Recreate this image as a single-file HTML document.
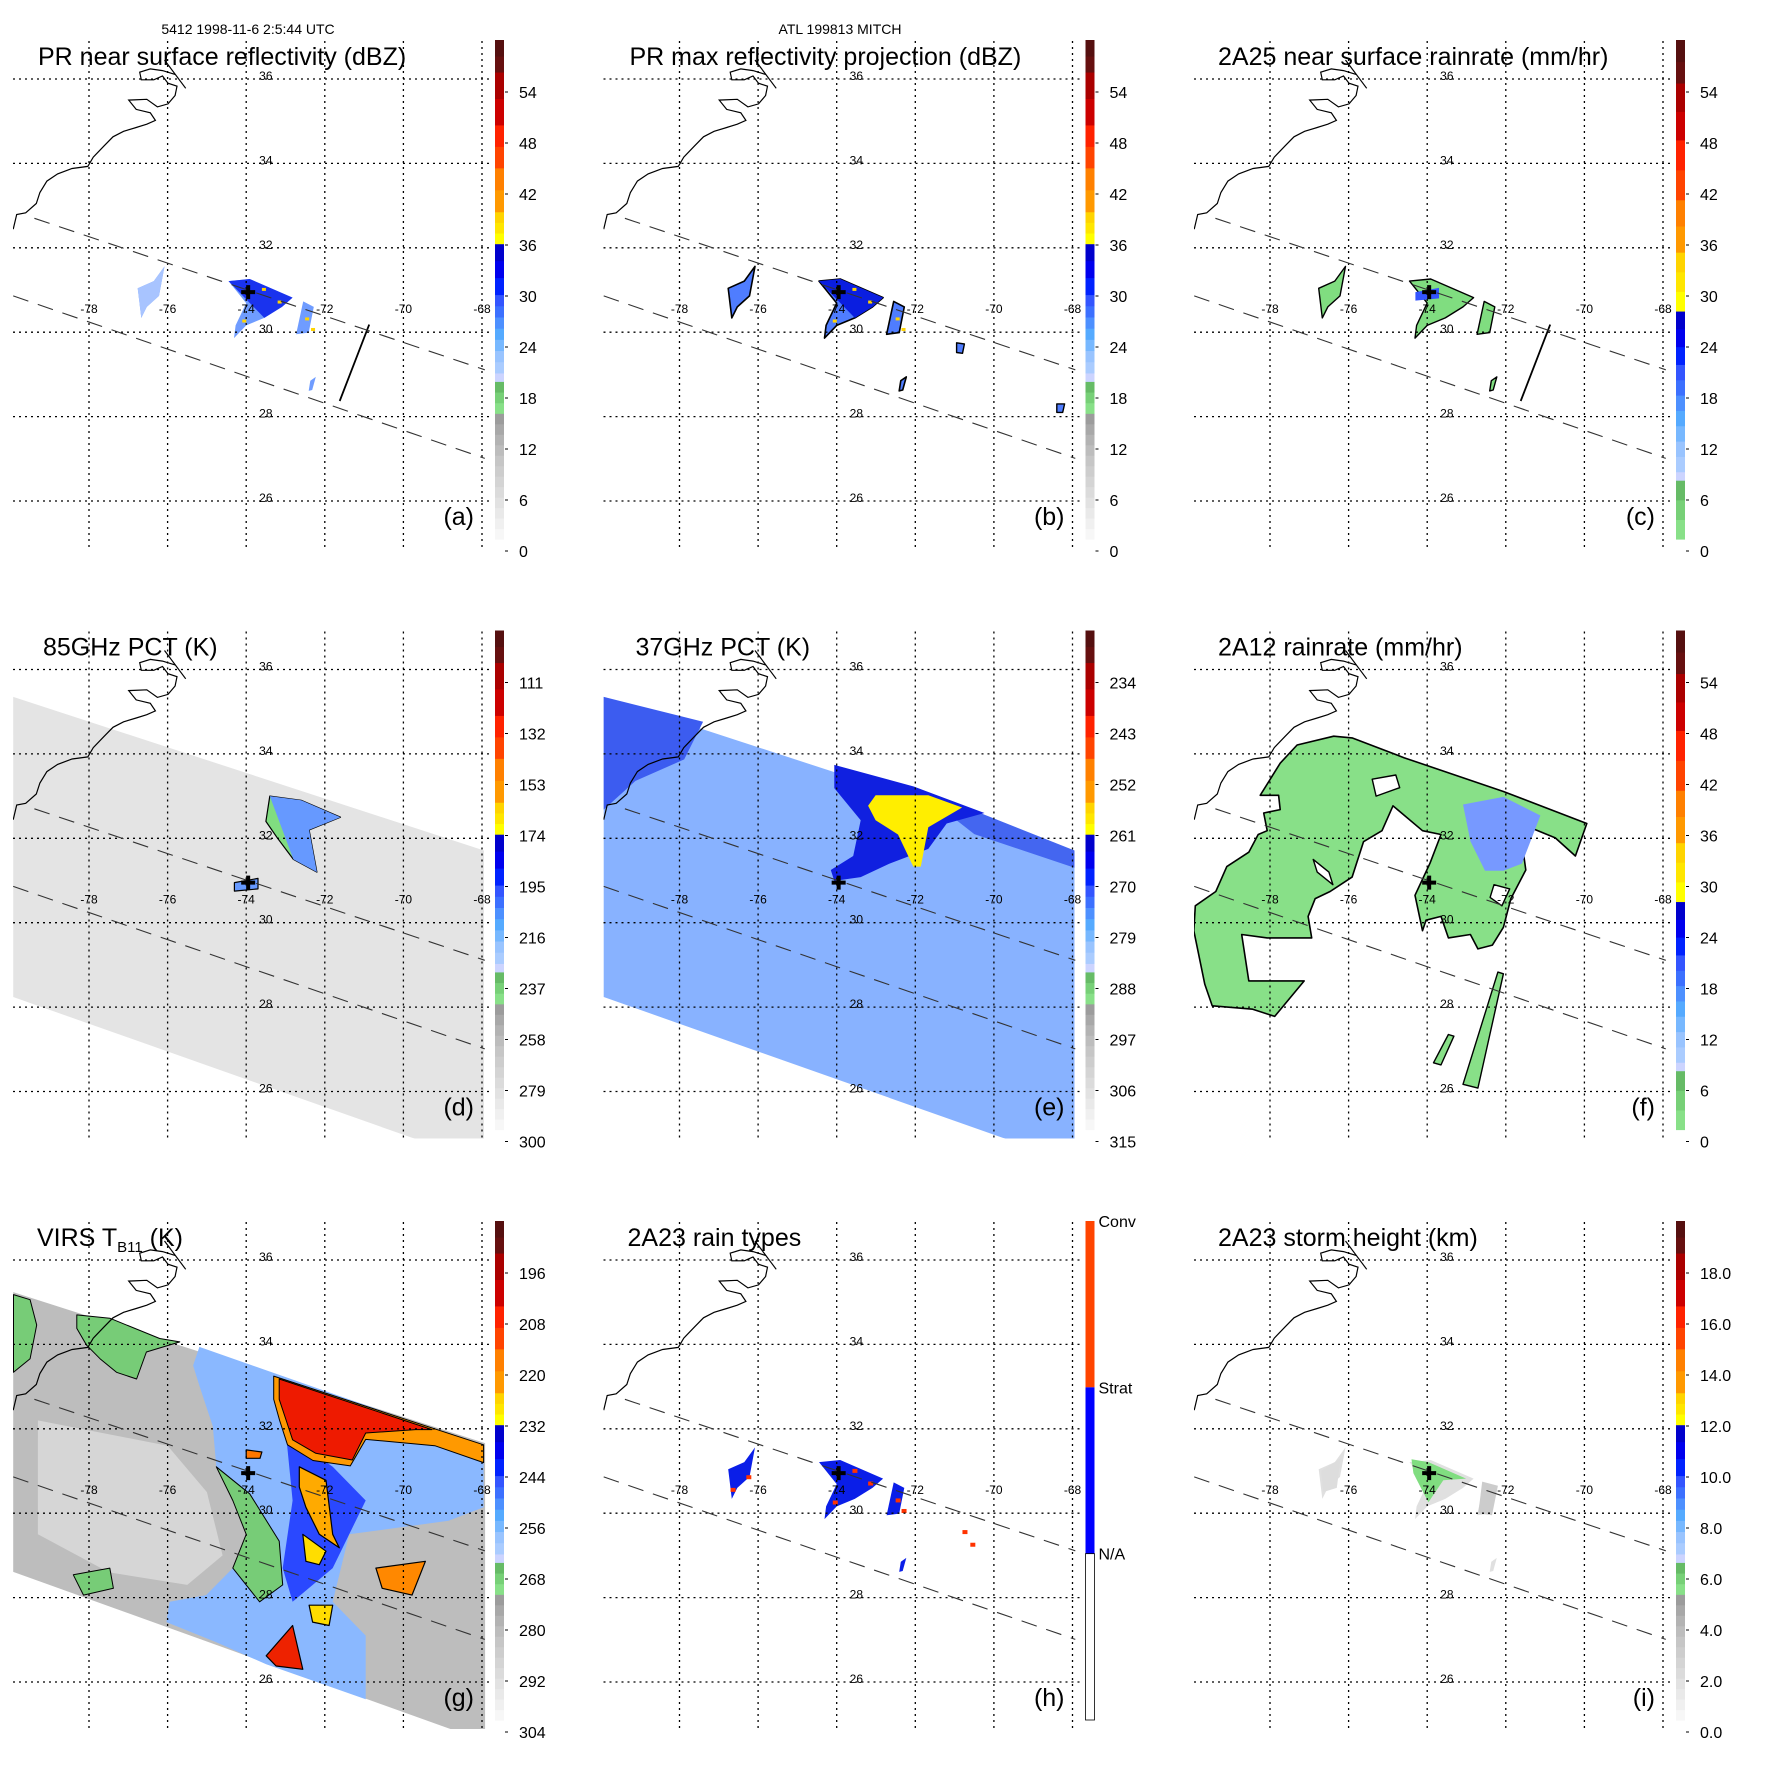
<!DOCTYPE html>
<html><head><meta charset="utf-8">
<style>
html,body{margin:0;padding:0;background:#fff;}
svg{display:block;font-family:"Liberation Sans",sans-serif;}
</style></head>
<body>
<svg id="fig" width="1771" height="1771" viewBox="0 0 1771 1771" xmlns="http://www.w3.org/2000/svg">
<defs><clipPath id="plotclip"><rect x="13" y="41" width="478" height="507"/></clipPath></defs>
<text x="248" y="34" font-size="14" text-anchor="middle">5412 1998-11-6 2:5:44 UTC</text>
<text x="840" y="34" font-size="14" text-anchor="middle">ATL 199813 MITCH</text>
</svg>
<script>
const NS="http://www.w3.org/2000/svg";
const svg=document.getElementById('fig');
// axis/grid data
const lonTicks=[-78,-76,-74,-72,-70,-68];
const latTicks=[36,34,32,30,28,26];
// colorbar tick labels (bottom to top)
const ticksDbz=["0","6","12","18","24","30","36","42","48","54"];
const ticksRain=["0","6","12","18","24","30","36","42","48","54"];
const ticks85=["300","279","258","237","216","195","174","153","132","111"];
const ticks37=["315","306","297","288","279","270","261","252","243","234"];
const ticksVirs=["304","292","280","268","256","244","232","220","208","196"];
const ticksHeight=["0.0","2.0","4.0","6.0","8.0","10.0","12.0","14.0","16.0","18.0"];
const rainTypeLabels=["Conv","Strat","N/A"];
// storm center
const center=[-73.95,30.95];
// PR swath edges [lon,lat]
const prUpper=[[-79.39,32.70],[-67.93,29.11]];
const prLower=[[-79.93,30.86],[-67.93,27.01]];
const prScanEnd=[[-70.87,30.18],[-71.62,28.37]];
// TMI & VIRS swaths
const tmiSwath=[[-79.93,35.35],[-67.95,31.71],[-67.95,24.5],[-69.77,24.9],[-79.93,28.24]];
const virsSwath=[[-79.93,35.24],[-67.92,31.66],[-67.92,24.6],[-69.0,24.95],[-79.93,28.61]];
// coastline
const coast=[[-79.93,32.44],[-79.84,32.79],[-79.61,32.83],[-79.34,33.05],[-79.25,33.31],[-79.07,33.58],[-78.80,33.75],[-78.43,33.88],[-78.03,33.93],[-77.89,34.15],[-77.62,34.41],[-77.39,34.63],[-77.12,34.76],[-76.80,34.85],[-76.53,34.93],[-76.31,35.02],[-76.44,35.20],[-76.80,35.28],[-76.99,35.50],[-76.53,35.52],[-76.26,35.34],[-75.99,35.41],[-75.81,35.61],[-75.76,35.83],[-75.99,35.90],[-76.13,36.07],[-76.35,35.98],[-76.67,35.98],[-76.71,36.16],[-76.44,36.24],[-76.13,36.20],[-75.81,36.11]];
const outerBanks=[[-76.08,36.45],[-75.54,35.78]];
// PR rain cells
const blobMain=[[-74.45,31.21],[-73.91,31.26],[-72.82,30.82],[-73.09,30.60],[-73.54,30.34],[-74.0,30.16],[-74.31,29.86],[-74.27,30.16],[-74.0,30.69]];
const blobStrip=[[-72.55,30.73],[-72.28,30.60],[-72.41,29.99],[-72.73,29.95]];
const blobLeft=[[-76.76,31.04],[-76.35,31.21],[-76.08,31.56],[-76.22,30.86],[-76.53,30.60],[-76.67,30.34]];
const blobSouth=[[-72.37,28.85],[-72.23,28.94],[-72.32,28.63],[-72.41,28.61]];
const blobEast1=[[-70.95,29.75],[-70.75,29.72],[-70.8,29.5],[-70.95,29.52]];
const blobEast2=[[-68.4,28.3],[-68.2,28.3],[-68.25,28.1],[-68.4,28.1]];
const convCells=[[-73.6,31.05],[-73.2,30.75],[-72.5,30.35],[-74.1,30.3],[-72.35,30.1]];
// TMI 85GHz depression
const pct85Blob=[[-73.4,33.0],[-72.6,32.9],[-71.6,32.5],[-72.4,32.2],[-72.2,31.2],[-72.8,31.5],[-73.2,32.0],[-73.5,32.4]];
const pct85Small=[[-74.3,30.95],[-73.7,31.05],[-73.7,30.8],[-74.3,30.75]];
// TMI 37GHz
const pct37NW=[[-79.93,35.35],[-77.40,34.76],[-77.88,33.87],[-79.12,33.36],[-79.93,32.68]];
const pct37Dark=[[-74.06,33.74],[-72.05,33.23],[-70.24,32.60],[-71.20,32.35],[-71.67,31.75],[-72.63,31.41],[-73.39,31.08],[-74.06,30.99],[-74.15,31.25],[-73.58,31.58],[-73.39,32.43],[-74.06,33.19]];
const pct37Band=[[-72.05,33.23],[-67.95,31.71],[-67.95,31.3],[-70.5,32.1]];
const pct37Core=[[-73.01,33.02],[-71.67,33.02],[-70.81,32.73],[-71.67,32.26],[-71.86,31.33],[-72.05,31.33],[-72.44,32.09],[-73.01,32.43],[-73.20,32.77]];
// 2A12 rain
const tmiRain=[[-79.90,30.40],[-79.38,30.74],[-79.10,31.33],[-78.54,31.67],[-78.30,32.09],[-78.07,32.18],[-78.16,32.60],[-77.74,32.68],[-77.78,33.02],[-78.25,33.02],[-77.74,33.78],[-77.31,34.21],[-76.38,34.42],[-75.91,34.38],[-74.59,33.91],[-72.06,33.11],[-69.94,32.35],[-70.23,31.58],[-70.74,32.01],[-71.40,32.26],[-71.59,31.92],[-71.49,31.25],[-71.87,30.57],[-72.06,29.89],[-72.34,29.47],[-72.71,29.38],[-72.90,29.72],[-73.46,29.64],[-73.65,30.15],[-74.03,30.06],[-74.12,29.81],[-74.31,30.65],[-73.93,31.41],[-73.65,32.09],[-74.12,32.18],[-74.87,32.77],[-75.15,32.18],[-75.62,31.92],[-75.91,31.08],[-76.47,30.74],[-76.85,30.57],[-77.03,30.15],[-76.94,29.64],[-78.07,29.64],[-78.72,29.72],[-78.54,28.62],[-77.13,28.62],[-77.88,27.78],[-78.44,27.95],[-79.47,28.03],[-79.66,28.54],[-79.94,29.81]];
const tmiRainHole1=[[-76.9,31.5],[-76.5,31.2],[-76.4,30.9],[-76.8,31.2]];
const tmiRainHole2=[[-75.4,33.4],[-74.8,33.5],[-74.7,33.2],[-75.3,33.0]];
const tmiRainHole3=[[-72.3,30.9],[-71.9,30.8],[-72.1,30.4],[-72.4,30.6]];
const tmiRainBlue=[[-73.09,32.80],[-72.06,32.98],[-71.12,32.54],[-71.59,31.40],[-72.06,31.23],[-72.53,31.23],[-72.90,31.93]];
const tmiStrip1=[[-73.09,26.17],[-72.71,26.08],[-72.06,28.79],[-72.20,28.83]];
const tmiStrip2=[[-73.84,26.68],[-73.65,26.63],[-73.32,27.31],[-73.46,27.35]];
// VIRS cloud tops
const virsLight=[[-79.3,32.2],[-76.0,31.6],[-75.0,30.5],[-74.6,29.0],[-75.5,28.3],[-77.5,28.6],[-79.3,29.5]];
const virsCold=[[-75.19,33.94],[-75.35,33.50],[-75.19,33.02],[-74.85,32.06],[-74.76,31.10],[-74.34,30.30],[-74.0,29.50],[-74.34,28.70],[-75.02,28.06],[-75.95,27.90],[-76.03,27.42],[-74.76,26.94],[-73.49,26.42],[-70.96,25.59],[-70.96,27.10],[-71.80,27.90],[-71.38,29.50],[-70.11,29.66],[-68.85,29.82],[-67.96,30.14],[-67.96,31.58]];
const virsGreenNW=[[-78.31,34.70],[-77.47,34.62],[-76.20,34.14],[-75.69,34.06],[-76.54,33.82],[-76.79,33.18],[-77.30,33.34],[-77.72,33.66],[-78.06,33.98],[-78.31,34.38]];
const virsGreenW=[[-79.92,35.18],[-79.50,35.06],[-79.33,34.46],[-79.50,33.66],[-79.92,33.34]];
const virsGreenBand=[[-74.76,31.10],[-73.91,30.46],[-73.16,29.34],[-73.07,28.30],[-73.66,27.90],[-74.34,28.70],[-74.0,29.5],[-74.34,30.3]];
const virsGreenSW=[[-78.40,28.54],[-77.47,28.70],[-77.38,28.22],[-78.14,28.06]];
const virsBlue=[[-72.99,31.90],[-71.80,31.10],[-70.96,30.30],[-71.80,28.70],[-72.82,27.90],[-73.07,28.70],[-72.82,30.30]];
const virsOrange=[[-73.3,33.25],[-67.96,31.62],[-67.96,31.2],[-69.2,31.6],[-70.96,31.75],[-71.35,31.12],[-72.3,31.25],[-72.95,31.62],[-73.15,32.2],[-73.3,32.7]];
const virsRed=[[-73.16,33.18],[-69.27,31.98],[-69.69,31.98],[-70.96,31.90],[-71.30,31.26],[-72.23,31.42],[-72.82,31.74],[-72.99,32.22],[-73.16,32.70]];
const virsStreak=[[-72.65,31.10],[-71.97,30.78],[-71.80,29.50],[-71.63,29.18],[-72.14,29.50],[-72.48,30.14],[-72.65,30.62]];
const virsYellow1=[[-72.56,29.50],[-71.97,29.10],[-72.14,28.78],[-72.48,28.86]];
const virsYellow2=[[-72.40,27.82],[-71.80,27.82],[-71.89,27.34],[-72.31,27.42]];
const virsRedS=[[-73.49,26.62],[-72.82,27.34],[-72.56,26.30],[-73.24,26.38]];
const virsOrangeE=[[-70.70,28.70],[-69.44,28.86],[-69.78,28.06],[-70.54,28.22]];
const virsOrangeSmall=[[-74.0,31.5],[-73.6,31.45],[-73.65,31.3],[-74.0,31.3]];
// storm height
const heightGreen=[[-74.40,31.28],[-73.97,31.21],[-73.01,30.82],[-73.59,30.78],[-73.97,30.26],[-74.16,30.60],[-74.35,30.95]];
const heightGrayE=[[-72.6,30.75],[-72.2,30.65],[-72.35,29.95],[-72.7,30.0]];
const heightGrayW=[[-76.7,31.0],[-76.2,31.3],[-76.3,30.6],[-76.65,30.5]];

const X0=89, PXLON=39.3, Y0=79, PXLAT=42.2, PSTEP=590.5;
function x(lon){return X0+(lon+78)*PXLON;}
function y(lat){return Y0+(36-lat)*PXLAT;}
function pts(arr){return arr.map(p=>x(p[0]).toFixed(1)+','+y(p[1]).toFixed(1)).join(' ');}
function mk(tag,attrs,parent,name){
  const el=document.createElementNS(NS,tag);
  for(const k in attrs) el.setAttribute(k,attrs[k]);
  
  
  parent.appendChild(el);
  return el;
}
function poly(arr,parent,name,fill,stroke,sw){
  return mk('polygon',{points:pts(arr),fill:fill,stroke:stroke||'none','stroke-width':sw||0,'stroke-linejoin':'round'},parent,name);
}
const grays=['#f7f7f7','#f0f0f0','#e9e9e9','#e2e2e2','#dbdbdb','#d4d4d4','#cdcdcd','#c6c6c6','#bdbdbd','#b3b3b3','#a8a8a8','#9c9c9c'];
const greens=['#88e088','#77d077','#66bb66'];
const lblues=['#aaccff','#99c4ff','#77b8ff','#55aaff','#4d90ff','#3c70ff','#3355ff'];
const dblues=['#0022ff','#0000ee','#0000cc'];
const yellows=['#ffff00','#ffe600','#ffd400'];
const oranges=['#ff9900','#ff8000'];
const reds=['#ff4400','#ff2200'];
const dreds=['#cc0000','#aa0000'];
const maroons=['#661010','#551010'];
const cmapStd=[[0,0.252,grays],[0.252,0.316,greens],[0.316,0.333,['#ccd4ff']],[0.333,0.49,lblues],[0.49,0.592,dblues],[0.592,0.656,yellows],[0.656,0.744,oranges],[0.744,0.83,reds],[0.83,0.936,dreds],[0.936,1,maroons]];
const cmapRain=[[0,0.118,greens],[0.118,0.135,['#ccd4ff']],[0.135,0.35,lblues],[0.35,0.457,dblues],[0.457,0.575,yellows],[0.575,0.68,oranges],[0.68,0.8,reds],[0.8,0.914,dreds],[0.914,1,maroons]];
const CB_X=495, CB_W=9, CB_TOP=40, CB_BOT=539;

function drawColorbar(g,cmap,ticks){
  const H=CB_BOT-CB_TOP;
  cmap.forEach(seg=>{
    const n=seg[2].length, f0=seg[0], f1=seg[1];
    seg[2].forEach((c,i)=>{
      const a=f0+(f1-f0)*i/n, b=f0+(f1-f0)*(i+1)/n;
      mk('rect',{x:CB_X,y:(CB_BOT-b*H).toFixed(2),width:CB_W,height:((b-a)*H+0.6).toFixed(2),fill:c},g,'colorbar-cell');
    });
  });
  ticks.forEach((t,i)=>{
    const ty=551-i*51;
    mk('line',{x1:505,x2:508,y1:ty,y2:ty,stroke:'#000','stroke-width':1},g,'colorbar-tick');
    const tx=mk('text',{x:519,y:ty+6,'font-size':16},g,'colorbar-label');
    tx.textContent=t;
  });
}
function drawRainTypeBar(g){
  const H=CB_BOT-CB_TOP, t=H/3;
  mk('rect',{x:CB_X,y:CB_TOP,width:CB_W,height:t,fill:'#ff4400'},g,'colorbar-conv');
  mk('rect',{x:CB_X,y:CB_TOP+t,width:CB_W,height:t,fill:'#0000ff'},g,'colorbar-strat');
  mk('rect',{x:CB_X,y:CB_TOP+2*t,width:CB_W,height:t,fill:'#fff',stroke:'#000','stroke-width':0.8},g,'colorbar-na');
  rainTypeLabels.forEach((l,i)=>{
    const tx=mk('text',{x:508,y:CB_TOP+i*t+6,'font-size':16},g,'colorbar-label');
    tx.textContent=l;
  });
}
function drawBase(g){
  latTicks.forEach(lat=>{
    mk('line',{x1:13,x2:491,y1:y(lat),y2:y(lat),stroke:'#000','stroke-width':1.3,'stroke-dasharray':'2,4'},g,'lat-gridline');
    const t=mk('text',{x:x(-73.5),y:y(lat)+1,'font-size':12,'text-anchor':'middle'},g,'lat-label');
    t.textContent=String(lat);
  });
  lonTicks.forEach(lon=>{
    mk('line',{x1:x(lon),x2:x(lon),y1:41,y2:548,stroke:'#000','stroke-width':1.3,'stroke-dasharray':'2,4'},g,'lon-gridline');
    const t=mk('text',{x:x(lon),y:y(30.55)+4,'font-size':12,'text-anchor':'middle'},g,'lon-label');
    t.textContent=String(lon);
  });
  const cl=mk('g',{'clip-path':'url(#plotclip)'},g,'coastline-group');
  mk('polyline',{points:pts(coast),fill:'none',stroke:'#000','stroke-width':1.2},cl,'coastline');
  mk('polyline',{points:pts(outerBanks),fill:'none',stroke:'#000','stroke-width':1.2},cl,'outer-banks');
  mk('polyline',{points:pts(prUpper),fill:'none',stroke:'#333','stroke-width':1.1,'stroke-dasharray':'16,10'},cl,'pr-swath-edge-upper');
  mk('polyline',{points:pts(prLower),fill:'none',stroke:'#333','stroke-width':1.1,'stroke-dasharray':'16,10'},cl,'pr-swath-edge-lower');
}
function drawCross(g){
  const cx=x(center[0]), cy=y(center[1]);
  mk('path',{d:`M${cx-7},${cy}H${cx+7}M${cx},${cy-7}V${cy+7}`,stroke:'#000','stroke-width':4},g,'storm-center-marker');
}
function prCells(f,fill,stroke,sw,inner){
  [blobMain,blobStrip,blobLeft,blobSouth].forEach(b=>poly(b,f,'rain-cell',fill,stroke,sw));
  if(inner){
    poly(blobMain.slice(0,5),f,'rain-core',inner,'none',0);
  }
}
const panels=[
 {c:0,r:0,title:'PR near surface reflectivity (dBZ)',tx:38,letter:'(a)',ticks:ticksDbz,cmap:cmapStd,draw:f=>{
   prCells(f,'#6f9cff','none',0,'#1a33ee');
   poly(blobLeft,f,'rain-cell-light','#a8c4ff','none',0);
   convCells.forEach(p=>mk('rect',{x:x(p[0]),y:y(p[1]),width:4,height:3,fill:'#ffd400'},f,'conv-pixel'));
   mk('polyline',{points:pts(prScanEnd),fill:'none',stroke:'#000','stroke-width':1.8},f,'pr-scan-end');
 }},
 {c:1,r:0,title:'PR max reflectivity projection (dBZ)',tx:39,letter:'(b)',ticks:ticksDbz,cmap:cmapStd,draw:f=>{
   prCells(f,'#4f7dff','#000',1.6,'#0a1ee0');
   poly(blobEast1,f,'rain-cell','#4f7dff','#000',1.4);
   poly(blobEast2,f,'rain-cell','#4f7dff','#000',1.4);
   convCells.forEach(p=>mk('rect',{x:x(p[0]),y:y(p[1]),width:4,height:3,fill:'#ffd400'},f,'conv-pixel'));
 }},
 {c:2,r:0,title:'2A25 near surface rainrate (mm/hr)',tx:37,letter:'(c)',ticks:ticksRain,cmap:cmapRain,draw:f=>{
   prCells(f,'#80dd80','#000',1.4,null);
   poly(pct85Small,f,'rain-core','#3355ff','none',0);
   mk('polyline',{points:pts(prScanEnd),fill:'none',stroke:'#000','stroke-width':1.8},f,'pr-scan-end');
 }},
 {c:0,r:1,title:'85GHz PCT (K)',tx:43,letter:'(d)',ticks:ticks85,cmap:cmapStd,draw:f=>{
   poly(tmiSwath,f,'tmi-swath','#e4e4e4','none',0);
   poly(pct85Blob,f,'ice-scatter-region','#80dd80','#000',1.2);
   poly(pct85Blob.slice(0,6),f,'ice-scatter-core','#6699ff','none',0);
   poly(pct85Small,f,'ice-scatter-small','#6699ff','#000',1.2);
 }},
 {c:1,r:1,title:'37GHz PCT (K)',tx:45,letter:'(e)',ticks:ticks37,cmap:cmapStd,draw:f=>{
   poly(tmiSwath,f,'tmi-swath','#88b2ff','none',0);
   poly(pct37NW,f,'tmi-land-region','#3c5cf0','none',0);
   poly(pct37Band,f,'emission-band','#4466f0','none',0);
   poly(pct37Dark,f,'emission-region','#1020e0','none',0);
   poly(pct37Core,f,'emission-core','#ffee00','none',0);
 }},
 {c:2,r:1,title:'2A12 rainrate (mm/hr)',tx:37,letter:'(f)',ticks:ticksRain,cmap:cmapRain,draw:f=>{
   poly(tmiRain,f,'rain-region','#88e088','#000',1.6);
   poly(tmiRainBlue,f,'heavy-rain-region','#7799ff','none',0);
   [tmiRainHole1,tmiRainHole2,tmiRainHole3].forEach(h=>poly(h,f,'rain-free-hole','#fff','#000',1.4));
   poly(tmiStrip1,f,'rain-strip','#88e088','#000',1.4);
   poly(tmiStrip2,f,'rain-strip','#88e088','#000',1.4);
 }},
 {c:0,r:2,title:'VIRS T',sub:'B11',tail:' (K)',tx:37,letter:'(g)',ticks:ticksVirs,cmap:cmapStd,draw:f=>{
   poly(virsSwath,f,'virs-swath','#bdbdbd','none',0);
   poly(virsLight,f,'warm-clear-region','#d6d6d6','none',0);
   poly(virsCold,f,'cold-cloud-region','#8ab8ff','none',0);
   poly(virsBlue,f,'cold-cloud-core','#2a48ff','none',0);
   poly(virsGreenNW,f,'cloud-region','#77cc77','#000',1);
   poly(virsGreenW,f,'cloud-region','#77cc77','#000',1);
   poly(virsGreenBand,f,'cloud-region','#77cc77','#000',1);
   poly(virsGreenSW,f,'cloud-region','#77cc77','#000',1);
   poly(virsOrange,f,'cold-top-region','#ff9900','#000',1);
   poly(virsRed,f,'coldest-top-region','#ee1a00','#000',1);
   poly(virsStreak,f,'convective-streak','#ffaa00','#000',1.2);
   poly(virsYellow1,f,'convective-cell','#ffdd00','#000',1.2);
   poly(virsYellow2,f,'convective-cell','#ffdd00','#000',1.2);
   poly(virsRedS,f,'convective-cell','#ee2200','#000',1.2);
   poly(virsOrangeE,f,'convective-cell','#ff8800','#000',1.2);
   poly(virsOrangeSmall,f,'convective-cell','#ff7700','#000',1.2);
 }},
 {c:1,r:2,title:'2A23 rain types',tx:37,letter:'(h)',ticks:null,cmap:null,draw:f=>{
   [blobMain,blobStrip,blobLeft,blobSouth].forEach(b=>poly(b,f,'rain-type-cell','#0a1ee8','none',0));
   convCells.concat([[-76.3,30.9],[-76.7,30.6],[-70.8,29.6],[-70.6,29.3]]).forEach(p=>mk('rect',{x:x(p[0]),y:y(p[1]),width:5,height:4,fill:'#ff3300'},f,'convective-pixel'));
 }},
 {c:2,r:2,title:'2A23 storm height (km)',tx:37,letter:'(i)',ticks:ticksHeight,cmap:cmapStd,draw:f=>{
   [blobMain,blobStrip,blobLeft,blobSouth].forEach(b=>poly(b,f,'height-cell','#e0e0e0','none',0));
   poly(heightGrayE,f,'height-cell','#cccccc','none',0);
   poly(heightGrayW,f,'height-cell','#dddddd','none',0);
   poly(heightGreen,f,'height-high-region','#80dd80','none',0);
 }}
];
panels.forEach((p,i)=>{
  const g=mk('g',{transform:`translate(${p.c*PSTEP},${p.r*PSTEP})`},svg,'panel-'+p.letter.replace(/[()]/g,''));
  const f=mk('g',{'clip-path':'url(#plotclip)'},g,'field-layer');
  p.draw(f);
  drawBase(g);
  drawCross(g);
  if(p.cmap) drawColorbar(g,p.cmap,p.ticks); else drawRainTypeBar(g);
  const t=mk('text',{x:p.tx,y:65,'font-size':25},g,'panel-title');
  t.textContent=p.title;
  if(p.sub){
    const s=document.createElementNS(NS,'tspan');
    
    
    s.setAttribute('font-size','15');s.setAttribute('dy','6');s.textContent=p.sub;t.appendChild(s);
    const s2=document.createElementNS(NS,'tspan');
    
    
    s2.setAttribute('dy','-6');s2.textContent=p.tail;t.appendChild(s2);
  }
  const l=mk('text',{x:474,y:525,'font-size':25,'text-anchor':'end'},g,'panel-letter');
  l.textContent=p.letter;
});
</script>
</body></html>
